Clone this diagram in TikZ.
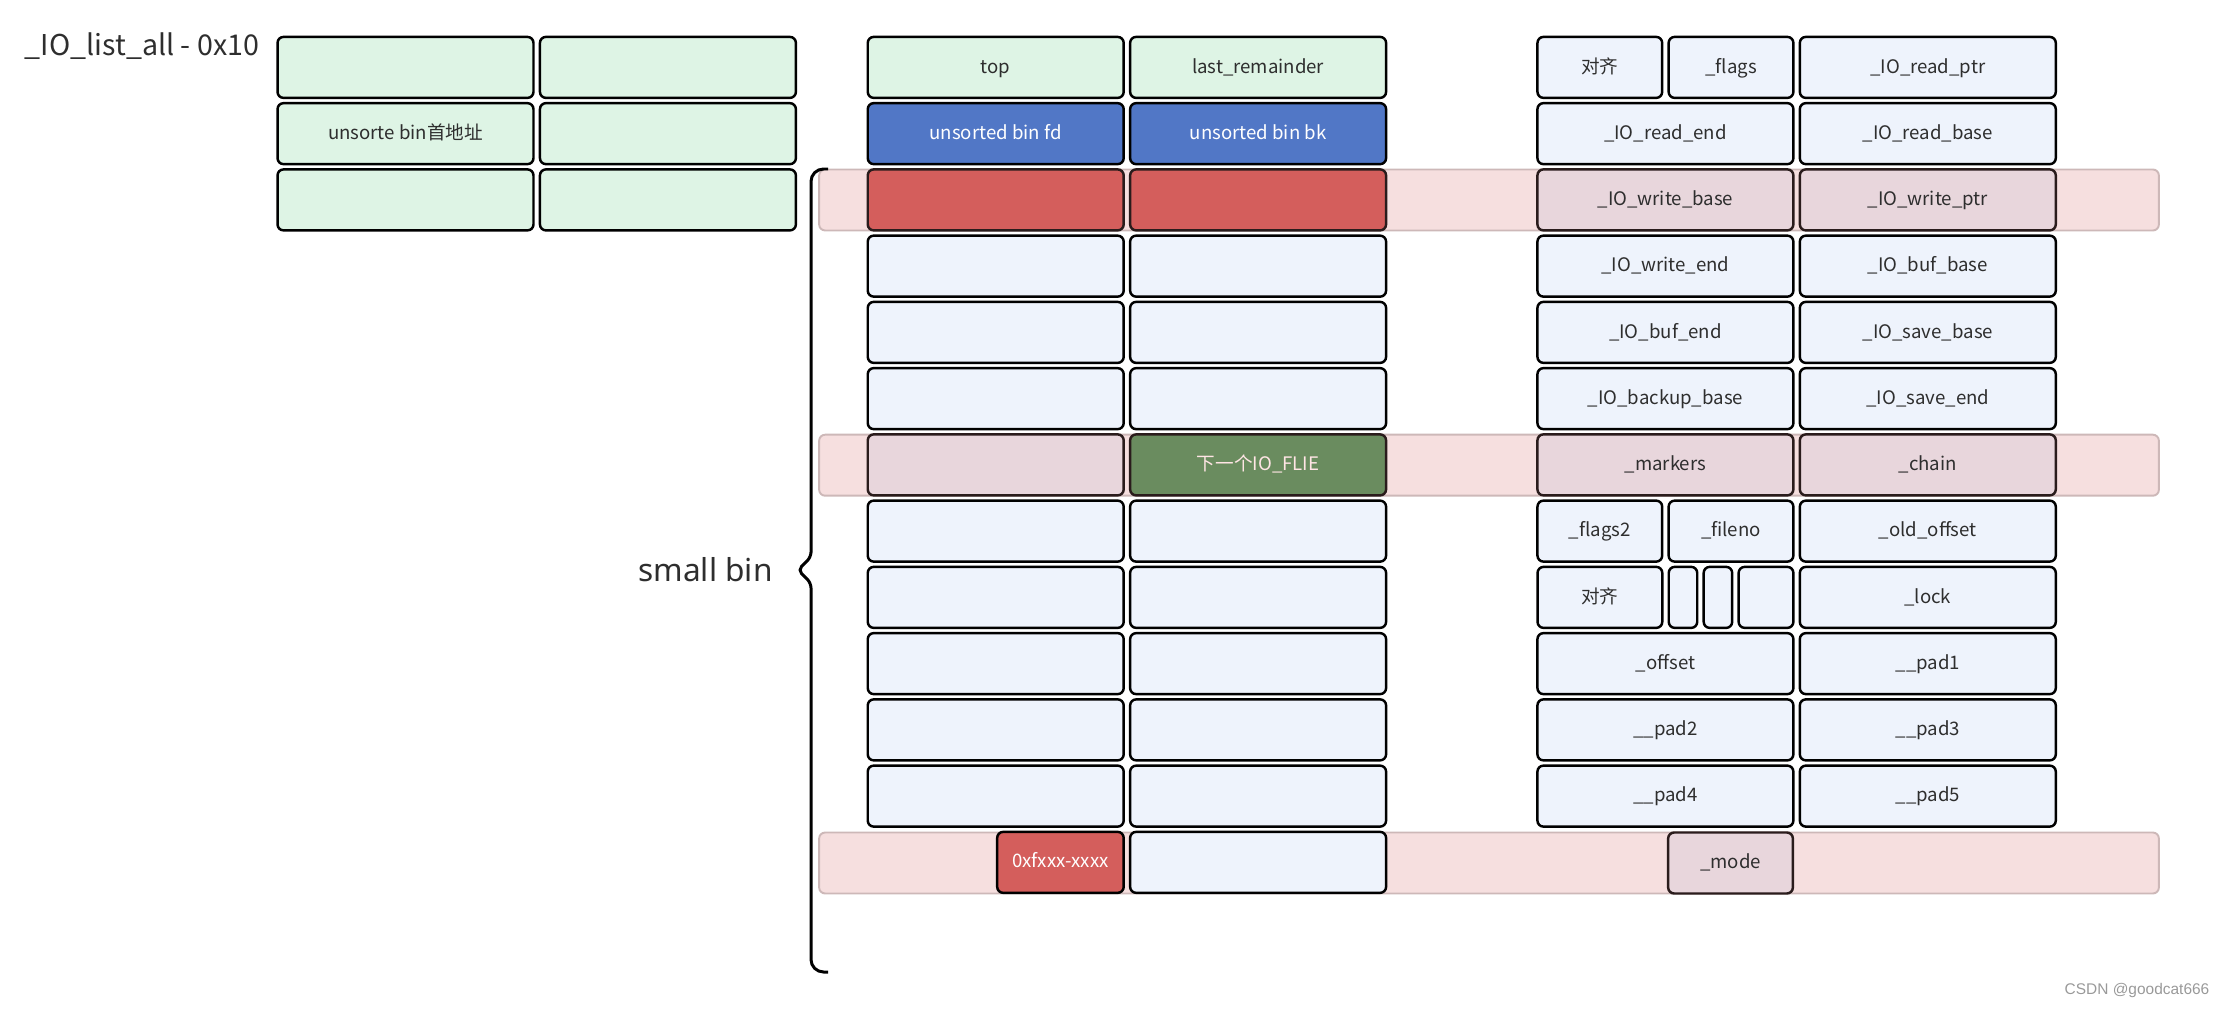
\documentclass[tikz,border=0pt]{standalone}
\usepackage{fontspec}
\usepackage{xcolor}
\usetikzlibrary{positioning}
\newfontfamily\cjk{Noto Sans CJK SC}
\newfontfamily\notosans{Noto Sans}
\newfontfamily\wmfont{Liberation Sans}
\definecolor{paleblue}{HTML}{EEF3FC}
\definecolor{mint}{HTML}{DEF4E5}
\definecolor{binblue}{HTML}{5177C6}
\definecolor{binred}{HTML}{D45E5C}
\definecolor{tint}{HTML}{E8D6DC}
\definecolor{tintline}{HTML}{2A1C1C}
\definecolor{fliegreen}{HTML}{6A8C5F}
\definecolor{bandpink}{HTML}{F6DFDF}
\definecolor{bandline}{HTML}{CDB8B8}
\definecolor{ink}{HTML}{2E2E2E}

\begin{document}
\begin{tikzpicture}[x=0.02cm, y=-0.02cm, node distance=0.056cm and 0.08cm,
    box/.style={rectangle, draw=black, line width=1.4pt, rounded corners=0.12cm, minimum width=5.12cm, minimum height=1.22cm, inner sep=0pt, text height=0.64em, text depth=0pt, fill=paleblue, text=ink, font=\cjk\fontsize{10.6}{13}\selectfont},
    half/.style={box, minimum width=2.495cm},
    greenbox/.style={box, fill=mint},
    bluebox/.style={box, fill=binblue, text=white},
    redbox/.style={box, fill=binred, draw=tintline},
    tintbox/.style={box, fill=tint, draw=tintline},
    fliebox/.style={box, fill=fliegreen, draw=tintline, text=white!90!red},
    hexbox/.style={box, fill=binred, text=white, minimum width=2.53cm},
    band/.style={rectangle, draw=bandline, line width=1.1pt, fill=bandpink, rounded corners=0.12cm, minimum width=26.8cm, minimum height=1.22cm}]

    \useasboundingbox (0,0) rectangle (2224,1010);

    \node[band] (band2) at (1489,200) {};
    \node[band] (band6) at (1489,465.2) {};
    \node[band] (band12) at (1489,863) {};

    \node[font=\cjk\fontsize{16.3}{19}\selectfont, text=ink, inner sep=0pt] (title) at (142,46) {\_IO\_list\_all - 0x10};

    \node[greenbox] (la0) at (405.5,67.4) {};
    \node[greenbox, right=of la0] (lb0) {};
    \node[greenbox, below=of la0] (la1) {unsorte bin首地址};
    \node[greenbox, right=of la1] (lb1) {};
    \node[greenbox, below=of la1] (la2) {};
    \node[greenbox, right=of la2] (lb2) {};

    \node[greenbox] (ma0) at (995.7,67.4) {top};
    \node[greenbox, right=of ma0] (mb0) {last\_remainder};
    \node[bluebox, below=of ma0] (ma1) {unsorted bin fd};
    \node[bluebox, right=of ma1] (mb1) {unsorted bin bk};
    \node[redbox, below=of ma1] (ma2) {};
    \node[redbox, right=of ma2] (mb2) {};
    \node[box, below=of ma2] (ma3) {};
    \node[box, right=of ma3] (mb3) {};
    \node[box, below=of ma3] (ma4) {};
    \node[box, right=of ma4] (mb4) {};
    \node[box, below=of ma4] (ma5) {};
    \node[box, right=of ma5] (mb5) {};
    \node[tintbox, below=of ma5] (ma6) {};
    \node[fliebox, right=of ma6] (mb6) {下一个IO\_FLIE};
    \node[box, below=of ma6] (ma7) {};
    \node[box, right=of ma7] (mb7) {};
    \node[box, below=of ma7] (ma8) {};
    \node[box, right=of ma8] (mb8) {};
    \node[box, below=of ma8] (ma9) {};
    \node[box, right=of ma9] (mb9) {};
    \node[box, below=of ma9] (ma10) {};
    \node[box, right=of ma10] (mb10) {};
    \node[box, below=of ma10] (ma11) {};
    \node[box, right=of ma11] (mb11) {};
    \node[box, below=of mb11] (mb12) {};
    \node[hexbox, left=of mb12] (hex) {0xfxxx-xxxx};

    \node[box] (rc0) at (1927.8,67.4) {\_IO\_read\_ptr};
    \node[half, left=of rc0] (rb0) {\_flags};
    \node[half, left=of rb0] (ra0) {对齐};
    \node[box, below=of rc0] (rc1) {\_IO\_read\_base};
    \node[box, left=of rc1] (ra1) {\_IO\_read\_end};
    \node[tintbox, below=of rc1] (rc2) {\_IO\_write\_ptr};
    \node[tintbox, left=of rc2] (ra2) {\_IO\_write\_base};
    \node[box, below=of rc2] (rc3) {\_IO\_buf\_base};
    \node[box, left=of rc3] (ra3) {\_IO\_write\_end};
    \node[box, below=of rc3] (rc4) {\_IO\_save\_base};
    \node[box, left=of rc4] (ra4) {\_IO\_buf\_end};
    \node[box, below=of rc4] (rc5) {\_IO\_save\_end};
    \node[box, left=of rc5] (ra5) {\_IO\_backup\_base};
    \node[tintbox, below=of rc5] (rc6) {\_chain};
    \node[tintbox, left=of rc6] (ra6) {\_markers};
    \node[box, below=of rc6] (rc7) {\_old\_offset};
    \node[half, left=of rc7] (rb7) {\_fileno};
    \node[half, left=of rb7] (ra7) {\_flags2};
    \node[box, below=of rc7] (rc8) {\_lock};
    \node[box, minimum width=1.095cm, left=of rc8] (rd3) {};
    \node[box, minimum width=0.57cm, left=of rd3] (rd2) {};
    \node[box, minimum width=0.57cm, left=of rd2] (rd1) {};
    \node[half, left=of rd1] (ra8) {对齐};
    \node[box, below=of rc8] (rc9) {\_\_pad1};
    \node[box, left=of rc9] (ra9) {\_offset};
    \node[box, below=of rc9] (rc10) {\_\_pad3};
    \node[box, left=of rc10] (ra10) {\_\_pad2};
    \node[box, below=of rc10] (rc11) {\_\_pad5};
    \node[box, left=of rc11] (ra11) {\_\_pad4};
    \node[tintbox, minimum width=2.495cm] (mode) at (1730.5,863) {\_mode};

    \coordinate (tip) at (798,570);
    \draw[line width=1.7pt] (828,169) [rounded corners=0.25cm] -- (811,169) -- (811,540) [rounded corners=0.1cm] -- (811,557) -- (tip) -- (811,583) -- (811,600) [rounded corners=0.25cm] -- (811,972) -- (828,972);
    \node[font=\notosans\fontsize{18}{20}\selectfont, text=ink, inner sep=0pt, left=0.5cm of tip] (smallbin) {small bin};

    \node[font=\wmfont\fontsize{8.8}{10}\selectfont, text=gray!80, inner sep=0pt] (mark) at (2137,990) {CSDN @goodcat666};
\end{tikzpicture}
\end{document}
